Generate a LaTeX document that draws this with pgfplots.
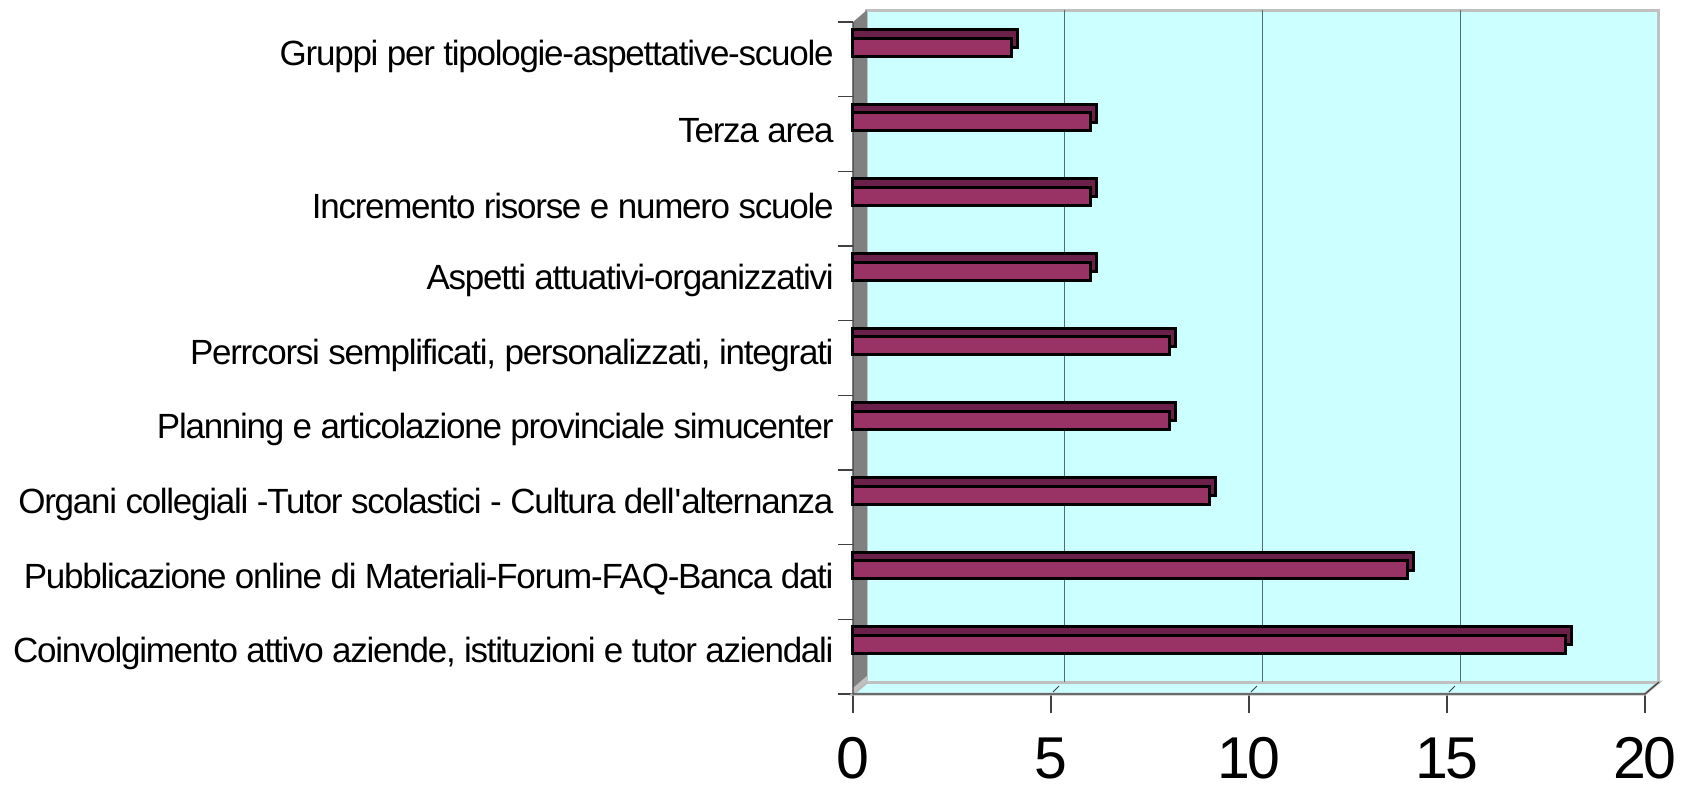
\documentclass[border=0pt]{standalone}
\usepackage{pgfplots}
\usepackage{pgfplotstable}
\pgfplotsset{compat=1.18}
\usepackage{fontspec}
\setmainfont{Liberation Sans}[LetterSpace=-3.6]
\definecolor{barfront}{HTML}{993366}
\definecolor{bartop}{HTML}{6A2049}
\definecolor{wallcyan}{HTML}{CCFFFF}
\definecolor{wallgray}{HTML}{C0C0C0}
\definecolor{sidegray}{HTML}{808080}
\definecolor{gridc}{HTML}{4F6F6F}
\definecolor{axc}{HTML}{404040}

\pgfplotstableread{
y v
1 18
2 14
3 9
4 8
5 8
6 6
7 6
8 6
9 4
}\datatable

\begin{document}
\begin{tikzpicture}
\begin{axis}[
  scale only axis, width=396pt, height=336pt,
  xmin=0, xmax=20, ymin=0.5, ymax=9.5,
  clip=false,
  axis line style={draw=none},
  xtick pos=bottom, ytick pos=left,
  tick align=outside,
  major tick length=9.5pt,
  minor tick length=7.5pt,
  xtick={0,5,10,15,20},
  xticklabels={0,5,10,15,20},
  ytick={1,2,3,4,5,6,7,8,9},
  minor ytick={0.5,1.5,...,9.5},
  major y tick style={draw=none},
  minor y tick style={draw=axc, line width=0.6pt},
  major x tick style={draw=axc, line width=0.6pt},
  xticklabel style={font=\fontsize{29.5}{34}\selectfont, anchor=north, inner sep=0pt, yshift=-12pt},
  yticklabel style={font=\fontsize{17.5}{20}\selectfont, anchor=east, inner sep=0pt, yshift=1.5pt},
  yticklabels={
    {Coinvolgimento attivo aziende, istituzioni e tutor aziendali},
    {Pubblicazione online di Materiali-Forum-FAQ-Banca dati},
    {Organi collegiali -Tutor scolastici - Cultura dell\textquotesingle alternanza},
    {Planning e articolazione provinciale simucenter},
    {Perrcorsi semplificati, personalizzati, integrati},
    {Aspetti attuativi-organizzativi},
    {Incremento risorse e numero scuole},
    {Terza area},
    {Gruppi per tipologie-aspettative-scuole}},
  xbar,
]
% invisible bounding box
\path (axis cs:0,0.5) ++(-426.5pt,-47.5pt) rectangle ++(846pt,394.5pt);
% floor
\filldraw[fill=wallcyan, draw=wallgray, line width=1.5pt]
  (axis cs:0,0.5) -- (axis cs:20,0.5) -- ([xshift=7pt,yshift=6pt]axis cs:20,0.5)
  -- ([xshift=7pt,yshift=6pt]axis cs:0,0.5) -- cycle;
% back wall
\filldraw[fill=wallcyan, draw=wallgray, line width=1.5pt]
  ([xshift=7pt,yshift=6pt]axis cs:0,0.5) rectangle ([xshift=7pt,yshift=6pt]axis cs:20,9.5);
% grid lines on back wall
\draw[gridc, line width=0.5pt] ([xshift=7pt,yshift=6pt]axis cs:5,0.5) -- ([xshift=7pt,yshift=6pt]axis cs:5,9.5);
\draw[gridc, line width=0.5pt] ([xshift=7pt,yshift=6pt]axis cs:10,0.5) -- ([xshift=7pt,yshift=6pt]axis cs:10,9.5);
\draw[gridc, line width=0.5pt] ([xshift=7pt,yshift=6pt]axis cs:15,0.5) -- ([xshift=7pt,yshift=6pt]axis cs:15,9.5);
\draw[axc, line width=0.4pt] ([xshift=1pt,yshift=1pt]axis cs:5,0.5) -- ([xshift=4pt,yshift=4pt]axis cs:5,0.5);
\draw[axc, line width=0.4pt] ([xshift=1pt,yshift=1pt]axis cs:10,0.5) -- ([xshift=4pt,yshift=4pt]axis cs:10,0.5);
\draw[axc, line width=0.4pt] ([xshift=1pt,yshift=1pt]axis cs:15,0.5) -- ([xshift=4pt,yshift=4pt]axis cs:15,0.5);
% side wall
\fill[sidegray] (axis cs:0,0.5) -- (axis cs:0,9.5) -- ([xshift=7pt,yshift=6pt]axis cs:0,9.5)
  -- ([xshift=7pt,yshift=6pt]axis cs:0,0.5) -- cycle;
\fill[wallgray] (axis cs:0,0.5) -- ([xshift=7pt,yshift=6pt]axis cs:0,0.5) -- ([xshift=7pt,yshift=9pt]axis cs:0,0.5) -- ([xshift=0pt,yshift=3pt]axis cs:0,0.5) -- cycle;
% front axis lines
\draw[axc, line width=0.6pt] (axis cs:0,9.5) -- (axis cs:0,0.5) -- (axis cs:20,0.5)
  -- ([xshift=7pt,yshift=6pt]axis cs:20,0.5);
% bars: top/right faces then front faces
\addplot[fill=bartop, draw=black, line width=1.5pt, bar width=9pt, bar shift=10.4pt]
  table[x expr=\thisrow{v}+0.15, y=y] {\datatable};
\addplot[fill=barfront, draw=black, line width=1.5pt, bar width=9pt, bar shift=6.15pt]
  table[x=v, y=y] {\datatable};
\end{axis}
\end{tikzpicture}
\end{document}
